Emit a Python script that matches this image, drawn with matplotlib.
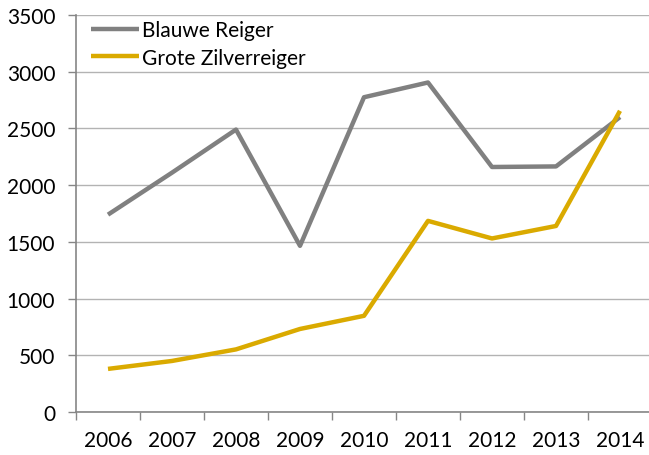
import matplotlib
matplotlib.use('Agg')
import matplotlib.pyplot as plt
import numpy as np

years = ['2006', '2007', '2008', '2009', '2010', '2011', '2012', '2013', '2014']
blauwe_reiger = [1740, 2110, 2490, 1465, 2775, 2905, 2160, 2165, 2600]
grote_zilverreiger = [380, 450, 552, 732, 848, 1685, 1530, 1640, 2655]

plt.rcParams['font.family'] = ['Lato', 'DejaVu Sans']
plt.rc('font', size=15)

fig = plt.figure(figsize=(6.49, 4.56), dpi=100)
ax = fig.add_axes([76/649, 1-413/456, 576/649, 397/456])

x = np.arange(len(years))
ax.plot(x, blauwe_reiger, color='#808080', linewidth=3.2, label='Blauwe Reiger', solid_capstyle='butt')
ax.plot(x, grote_zilverreiger, color='#DAAA00', linewidth=3.2, label='Grote Zilverreiger', solid_capstyle='butt')

ax.set_xlim(-0.5, len(years) - 0.5)
ax.set_ylim(0, 3500)
ax.set_yticks(np.arange(0, 3501, 500))
ax.set_xticks(x)
ax.set_xticklabels(years)
ax.set_xticks(np.arange(-0.5, len(years), 1), minor=True)
ax.tick_params(axis='x', which='major', length=0, pad=13)
ax.tick_params(axis='x', which='minor', length=6, color='#868686', width=1)
ax.tick_params(axis='y', length=6, color='#868686', width=1, pad=9)

ax.grid(axis='y', color='#B3B3B3', linewidth=1)
ax.set_axisbelow(True)
for s in ['top', 'right']:
    ax.spines[s].set_visible(False)
for s in ['left', 'bottom']:
    ax.spines[s].set_color('#868686')
    ax.spines[s].set_linewidth(1.2)

ax.legend(loc='upper left', bbox_to_anchor=(-0.006, 1.035), frameon=False,
          handlelength=2.3, handletextpad=0.15, labelspacing=0.38, borderaxespad=0.5)

fig.savefig('out.png', dpi=100)
